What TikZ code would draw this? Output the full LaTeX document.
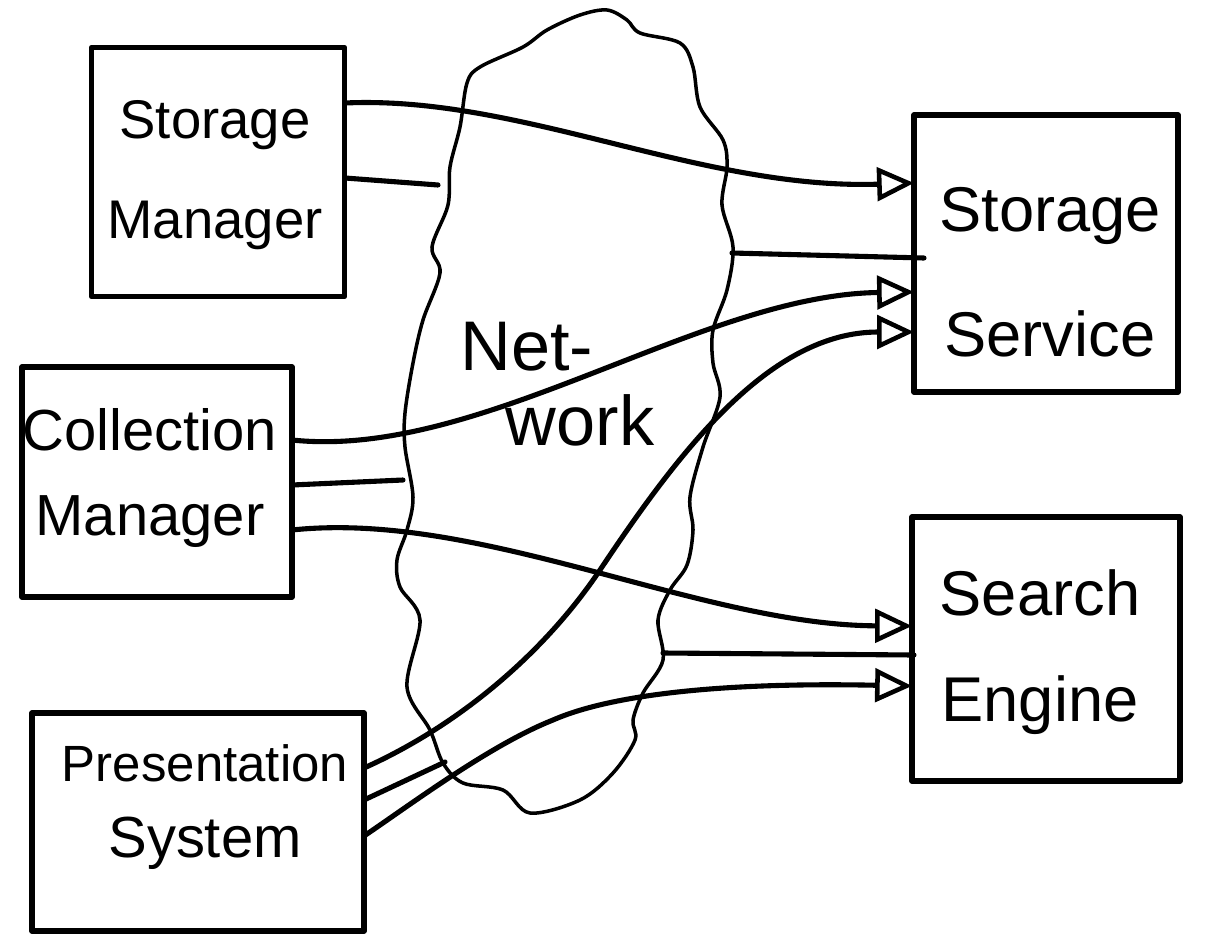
\documentclass[tikz,border=0pt]{standalone}
\usepackage{fontspec}
\setmainfont{Liberation Sans}
\usetikzlibrary{arrows.meta}
\begin{document}
\begin{tikzpicture}[x=0.02cm,y=-0.02cm,
  box/.style={draw, line width=3.2pt, line join=round, inner sep=0pt},
  conn/.style={line width=2.9pt, line cap=round},
  arr/.style={conn, -{Triangle[open, length=21pt, width=19pt, line width=2.6pt]}},
  cloudline/.style={line width=2pt, line join=round},
  hand/.style={align=center, inner sep=0pt},
]
\useasboundingbox[fill=white] (0,0) rectangle (1225,940);

% boxes
\node[box, minimum width=5.06cm, minimum height=4.98cm] (sm) at (218,172) {};
\node[box, minimum width=5.4cm, minimum height=4.6cm] (cm) at (157,482) {};
\node[box, minimum width=6.64cm, minimum height=4.36cm] (ps) at (198,822) {};
\node[box, minimum width=5.28cm, minimum height=5.54cm] (ss) at (1046,253.5) {};
\node[box, minimum width=5.36cm, minimum height=5.28cm] (se) at (1046,649) {};

% texts
\node[hand, font=\fontsize{31}{57}\selectfont] (sm-t) at (215,175) {Storage\\Manager};
\node[hand, font=\fontsize{33}{48}\selectfont] (cm-t) at (150,478) {Collection\\Manager};
\node[hand, font=\fontsize{29}{43}\selectfont] (ps-t) at (205,807) {Presentation\\{\fontsize{33}{43}\selectfont System}};
\node[hand, font=\fontsize{36}{71}\selectfont] (ss-t) at (1050,272) {Storage\\Service};
\node[hand, font=\fontsize{36}{60}\selectfont] (se-t) at (1040,652) {Search\\Engine};
\node[hand, font=\fontsize{40}{48}\selectfont] (net1) at (527,347) {Net-};
\node[hand, font=\fontsize{40}{48}\selectfont] (net2) at (580,420) {work};

% cloud
\draw[cloudline] plot[smooth cycle, tension=0.55] coordinates {
 (467,83) (480,67) (523,47) (547,30) (580,15) (607,10) (627,20) (640,33)
 (680,43) (693,67) (700,107) (723,140) (727,167) (722,205) (733,247)
 (727,290) (713,330) (713,363) (720,397) (703,447) (690,497) (693,530)
 (687,565) (670,590) (658,620) (663,660) (643,693) (633,720) (635,740)
 (613,773) (580,800) (530,813) (503,790) (463,783) (443,763) (430,730)
 (407,687) (420,620) (400,587) (397,560) (407,530) (413,497) (405,447)
 (405,413) (413,363) (423,320) (440,273) (432,247) (448,205) (450,167)
 (460,127)};

% ports
\coordinate (sm-o1) at (345,103);
\coordinate (sm-o2) at (345,178);
\coordinate (cm-o1) at (292,440);
\coordinate (cm-o2) at (292,485);
\coordinate (cm-o3) at (292,530);
\coordinate (ps-o1) at (364,768);
\coordinate (ps-o2) at (364,800);
\coordinate (ps-o3) at (364,836);
\coordinate (ss-i1) at (914,183);
\coordinate (ss-i2) at (924,258);
\coordinate (ss-i3) at (914,292);
\coordinate (ss-i4) at (914,332);
\coordinate (se-i1) at (912,626);
\coordinate (se-i2) at (914,655);
\coordinate (se-i3) at (912,686);
\coordinate (cl-a) at (438,185);
\coordinate (cl-b) at (403,480);
\coordinate (cl-c) at (445,762);
\coordinate (cl-d) at (732,253);
\coordinate (cl-e) at (663,653);

% connectors
\draw[arr] (sm-o1) .. controls (520,95) and (700,190) .. (ss-i1);
\draw[conn] (sm-o2) -- (cl-a);
\draw[conn] (cl-d) -- (ss-i2);
\draw[arr] (cm-o1) .. controls (480,460) and (700,295) .. (ss-i3);
\draw[conn] (cm-o2) -- (cl-b);
\draw[arr] (cm-o3) .. controls (480,510) and (700,625) .. (se-i1);
\draw[arr] (ps-o1) .. controls (460,725) and (545,652) .. (600,570)
                   .. controls (680,450) and (770,332) .. (ss-i4);
\draw[conn] (ps-o2) -- (cl-c);
\draw[arr] (ps-o3) .. controls (410,805) and (490,745) .. (553,720)
                   .. controls (610,695) and (720,682) .. (se-i3);
\draw[conn] (cl-e) -- (se-i2);
\end{tikzpicture}
\end{document}
